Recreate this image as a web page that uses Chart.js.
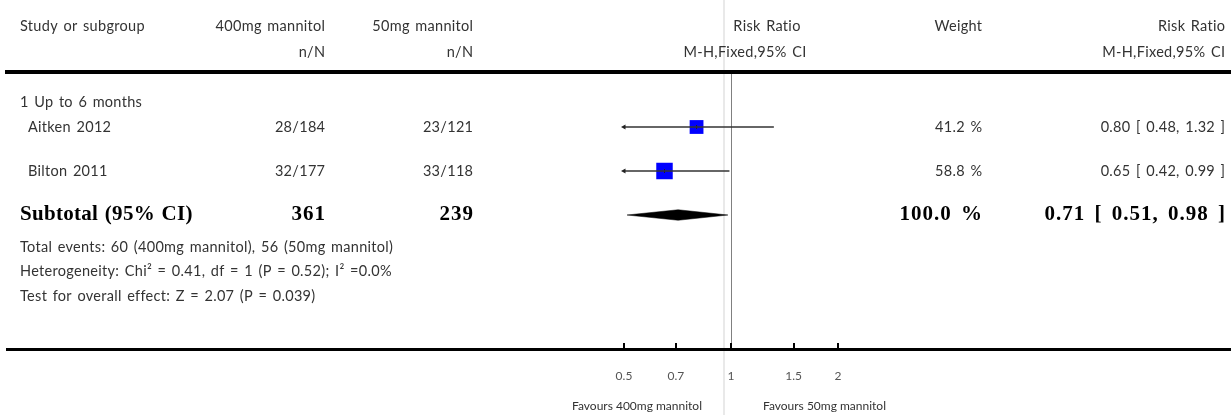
<!DOCTYPE html>
<html>
<head>
<meta charset="utf-8">
<script src="https://cdn.jsdelivr.net/npm/chart.js@4.4.1/dist/chart.umd.min.js"></script>
<style>
html,body{margin:0;padding:0;background:#fff;}
canvas{display:block;}
</style>
</head>
<body>
<canvas id="chart" width="1231" height="415"></canvas>
<script>
/* global Chart */
// Forest plot: 400mg vs 50mg mannitol, risk ratio (M-H, fixed), log x axis.

// ---- data ----
const GROUP = "1 Up to 6 months";
const STUDIES = ["Aitken 2012", "Bilton 2011"];
const EVENTS_400 = [28, 32];
const TOTAL_400 = [184, 177];
const EVENTS_50 = [23, 33];
const TOTAL_50 = [121, 118];
const WEIGHT = [41.2, 58.8];
const RR = [0.80, 0.65];
const RR_LO = [0.48, 0.42];
const RR_HI = [1.32, 0.99];
const SUB_N = [361, 239];          // 400mg, 50mg
const SUB_RR = [0.71, 0.51, 0.98]; // estimate, lower, upper
const SUB_WEIGHT = 100.0;
const NOTES = [
  "Total events: 60 (400mg mannitol), 56 (50mg mannitol)",
  "Heterogeneity: Chi\u00B2 = 0.41, df = 1 (P = 0.52); I\u00B2 =0.0%",
  "Test for overall effect: Z = 2.07 (P = 0.039)"
];
const X_TICKS = [0.5, 0.7, 1, 1.5, 2];
const TICK_LABELS = ["0.5", "0.7", "1", "1.5", "2"];
const XMIN = 0.5, XMAX = 2;

// ---- layout (row slots in y-scale units, column edges in px) ----
const ROW_HEAD = [-1.9, -0.86];
const ROW_GROUP = 1.12;
const ROW_STUDY = [2.12, 3.88];
const ROW_SUB = 5.64;
const ROW_NOTES = [6.92, 7.88, 8.88];
const DIAMOND_H = 0.21;

const SANS = "Lato, 'Open Sans', sans-serif";
const SERIF = "'Liberation Serif', 'DejaVu Serif', serif";
const TXT = "#333";
const REG = {font: "14.5px " + SANS, ls: "0.3px", ws: "1.5px", color: TXT};
const BOLD = {font: "bold 21px " + SERIF, ls: "1px", ws: "3px", color: "#000"};
const BOLD_LABEL = {font: "bold 21px " + SERIF, ls: "0.3px", ws: "1px", color: "#000"};

const f2 = v => v.toFixed(2);
const ciText = (r, lo, hi) => `${f2(r)} [ ${f2(lo)}, ${f2(hi)} ]`;

const ciSets = STUDIES.map((s, i) => {
  const clipLo = RR_LO[i] < XMIN, clipHi = RR_HI[i] > XMAX;
  return {
    type: "line",
    label: s + " CI",
    data: [{x: Math.max(RR_LO[i], XMIN), y: ROW_STUDY[i]}, {x: Math.min(RR_HI[i], XMAX), y: ROW_STUDY[i]}],
    borderColor: "#333", borderWidth: 1.3,
    pointStyle: "triangle",
    rotation: c => c.dataIndex === 0 ? 270 : 90,
    pointRadius: c => (c.dataIndex === 0 && clipLo) || (c.dataIndex === 1 && clipHi) ? 3 : 0,
    pointBackgroundColor: "#222", pointBorderColor: "#222", pointBorderWidth: 0,
    clip: false
  };
});

const datasets = [
  ...ciSets,
  {
    type: "scatter", label: "estimate",
    data: STUDIES.map((s, i) => ({x: RR[i], y: ROW_STUDY[i]})),
    pointStyle: "line", rotation: 90, pointRadius: 2,
    borderColor: "#222", borderWidth: 1, clip: false
  },
  {
    type: "scatter", label: "weight",
    data: STUDIES.map((s, i) => ({x: RR[i], y: ROW_STUDY[i]})),
    pointStyle: "rect",
    pointRadius: c => 2.15 * Math.sqrt(WEIGHT[c.dataIndex]) / Math.SQRT2,
    backgroundColor: "#0000ff", borderWidth: 0, clip: false
  },
  {
    type: "line", label: "subtotal",
    data: [
      {x: SUB_RR[1], y: ROW_SUB}, {x: SUB_RR[0], y: ROW_SUB - DIAMOND_H},
      {x: SUB_RR[2], y: ROW_SUB}, {x: SUB_RR[0], y: ROW_SUB + DIAMOND_H},
      {x: SUB_RR[1], y: ROW_SUB}
    ],
    borderColor: "#000", backgroundColor: "#000", borderWidth: 0.5,
    fill: "shape", pointRadius: 0, tension: 0, clip: false
  }
];

function txt(ctx, s, x, y, align, st) {
  ctx.font = st.font; ctx.fillStyle = st.color;
  ctx.letterSpacing = st.ls || "0px"; ctx.wordSpacing = st.ws || "0px";
  ctx.textAlign = align; ctx.textBaseline = "middle";
  // letter spacing adds trailing space; compensate for right alignment
  const adj = align === "right" ? parseFloat(st.ls || 0) : 0;
  ctx.fillText(s, x + adj, y);
}

const decor = {
  id: "decor",
  beforeDraw(chart) {
    const {ctx, scales: {x}} = chart;
    const x1 = x.getPixelForValue(1);
    ctx.save();
    ctx.fillStyle = "#e9e9e9";
    ctx.fillRect(x1 - 8, 0, 2, chart.height);
    ctx.restore();
  },
  beforeDatasetsDraw(chart) {
    const {ctx, chartArea: a, scales: {x}} = chart;
    const x1 = Math.round(x.getPixelForValue(1)) + 0.5;
    ctx.save();
    ctx.strokeStyle = "#808080"; ctx.lineWidth = 1;
    ctx.beginPath(); ctx.moveTo(x1, a.top); ctx.lineTo(x1, a.bottom); ctx.stroke();
    ctx.restore();
  },
  afterDraw(chart) {
    const {ctx, chartArea: a, scales: {x, y}} = chart;
    const W = chart.width;
    const C400 = 325, C50 = 473, CW = 982, CRR = 1225;
    ctx.save();

    // header
    const h0 = y.getPixelForValue(ROW_HEAD[0]), h1 = y.getPixelForValue(ROW_HEAD[1]);
    txt(ctx, "Study or subgroup", 20, h0, "left", REG);
    txt(ctx, "400mg mannitol", C400, h0, "right", REG);
    txt(ctx, "n/N", C400, h1, "right", REG);
    txt(ctx, "50mg mannitol", C50, h0, "right", REG);
    txt(ctx, "n/N", C50, h1, "right", REG);
    txt(ctx, "Risk Ratio", 767, h0, "center", REG);
    txt(ctx, "M-H,Fixed,95% CI", 745, h1, "center", REG);
    txt(ctx, "Weight", CW, h0, "right", REG);
    txt(ctx, "Risk Ratio", CRR, h0, "right", REG);
    txt(ctx, "M-H,Fixed,95% CI", CRR, h1, "right", REG);

    // rules
    ctx.fillStyle = "#000";
    ctx.fillRect(5, a.top - 4, W - 5, 4);
    ctx.fillRect(6, a.bottom - 1, W - 6, 3);
    X_TICKS.forEach(v => {
      const px = Math.round(x.getPixelForValue(v));
      ctx.fillRect(px - 1, a.bottom - 6, 2, 6);
    });

    // group + studies
    txt(ctx, GROUP, 20, y.getPixelForValue(ROW_GROUP), "left", REG);
    STUDIES.forEach((s, i) => {
      const py = y.getPixelForValue(ROW_STUDY[i]);
      txt(ctx, s, 28, py, "left", REG);
      txt(ctx, `${EVENTS_400[i]}/${TOTAL_400[i]}`, C400, py, "right", REG);
      txt(ctx, `${EVENTS_50[i]}/${TOTAL_50[i]}`, C50, py, "right", REG);
      txt(ctx, `${WEIGHT[i].toFixed(1)} %`, CW, py, "right", REG);
      txt(ctx, ciText(RR[i], RR_LO[i], RR_HI[i]), CRR, py, "right", REG);
    });

    // subtotal
    const ps = y.getPixelForValue(ROW_SUB);
    txt(ctx, "Subtotal (95% CI)", 20, ps, "left", BOLD_LABEL);
    txt(ctx, String(SUB_N[0]), C400, ps, "right", BOLD);
    txt(ctx, String(SUB_N[1]), C50, ps, "right", BOLD);
    txt(ctx, `${SUB_WEIGHT.toFixed(1)} %`, CW, ps, "right", BOLD);
    txt(ctx, ciText(SUB_RR[0], SUB_RR[1], SUB_RR[2]), CRR, ps, "right", BOLD);

    NOTES.forEach((s, i) => txt(ctx, s, 20, y.getPixelForValue(ROW_NOTES[i]), "left", REG));

    // favours labels
    const x1 = x.getPixelForValue(1);
    const fav = {font: "12px " + SANS, color: TXT};
    txt(ctx, "Favours 400mg mannitol", x1 - 29, 406, "right", fav);
    txt(ctx, "Favours 50mg mannitol", x1 + 32, 406, "left", fav);
    ctx.restore();
  }
};

new Chart(document.getElementById("chart"), {
  data: {datasets},
  options: {
    responsive: false, animation: false,
    layout: {padding: {left: 624, right: 1231 - 838, top: 74, bottom: 0}},
    plugins: {legend: {display: false}, tooltip: {enabled: false}},
    scales: {
      x: {
        type: "logarithmic", min: XMIN, max: XMAX,
        afterBuildTicks: s => { s.ticks = X_TICKS.map(v => ({value: v})); },
        afterFit: s => { s.height = 66; },
        grid: {display: false, drawTicks: false}, border: {display: false},
        ticks: {
          padding: 20, autoSkip: false, maxRotation: 0, color: "#555",
          font: {family: SANS, size: 12},
          callback: (v, i) => TICK_LABELS[i]
        }
      },
      y: {type: "linear", min: 0, max: 11, reverse: true, display: false}
    }
  },
  plugins: [decor]
});
</script>
</body>
</html>
